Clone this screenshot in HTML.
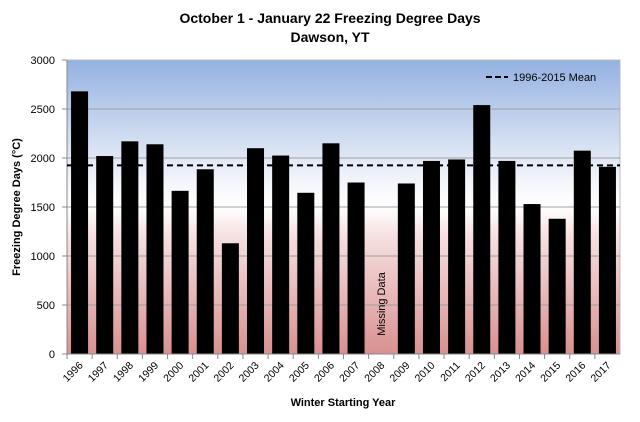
<!DOCTYPE html>
<html><head><meta charset="utf-8"><style>
body{margin:0;background:#fff;}
svg{display:block;font-family:"Liberation Sans",sans-serif;}
</style></head><body>
<svg id="c" width="640" height="422">
<defs>
<linearGradient id="bg" x1="0" y1="0" x2="0" y2="1">
<stop offset="0" stop-color="#94b1e1"/>
<stop offset="0.42" stop-color="#f4f6fb"/>
<stop offset="0.5" stop-color="#ffffff"/>
<stop offset="0.6" stop-color="#f6e0e0"/>
<stop offset="1" stop-color="#d99090"/>
</linearGradient>
</defs>
<text x="330" y="23" text-anchor="middle" font-size="14" font-weight="bold">October 1 - January 22 Freezing Degree Days</text>
<text x="330" y="42" text-anchor="middle" font-size="14" font-weight="bold">Dawson, YT</text>
<rect x="67" y="60" width="553" height="294" fill="url(#bg)" stroke="#bbb"/>
<g id="grid"></g><g id="bars"></g><g id="xl"></g><g id="yl"></g>
<line id="mean" stroke="#000" stroke-width="2" stroke-dasharray="6,4"/>
<line x1="486" y1="77" x2="508" y2="77" stroke="#000" stroke-width="2" stroke-dasharray="6,3"/>
<text x="513" y="81" font-size="11">1996-2015 Mean</text>
<text x="0" y="0" transform="translate(20,207) rotate(-90)" text-anchor="middle" font-size="11" font-weight="bold">Freezing Degree Days (°C)</text>
<text x="343" y="406" text-anchor="middle" font-size="11" font-weight="bold">Winter Starting Year</text>
<text id="miss" font-size="11" text-anchor="middle">Missing Data</text>
</svg>
<script>
const years=["1996","1997","1998","1999","2000","2001","2002","2003","2004","2005","2006","2007","2008","2009","2010","2011","2012","2013","2014","2015","2016","2017"];
const values=[2680,2020,2170,2140,1665,1885,1130,2100,2025,1645,2150,1750,null,1740,1970,1985,2540,1970,1530,1380,2075,1910];
const yTicks=[0,500,1000,1500,2000,2500,3000];
const meanValue=1925;
const NS="http://www.w3.org/2000/svg";
const L=67,R=620,T=60,B=354,yMax=3000;
const step=(R-L)/years.length;
const y=v=>B-(v/yMax)*(B-T);
const x=i=>L+step*i;
function mk(t,a,p){const e=document.createElementNS(NS,t);for(const k in a)e.setAttribute(k,a[k]);document.getElementById(p).appendChild(e);return e;}
yTicks.forEach(v=>{
  if(v>0&&v<yMax){const g=mk('line',{x1:L,x2:R,y1:y(v),y2:y(v),stroke:'#a0a0a0'},'grid');
  
  }
  const t=mk('text',{x:L-12,y:y(v)+4,'text-anchor':'end','font-size':11},'yl');t.textContent=v;
  
  
  mk('line',{x1:L-5,x2:L,y1:y(v),y2:y(v),stroke:'#888'},'yl');
});
years.forEach((yr,i)=>{
  mk('line',{x1:x(i),x2:x(i),y1:B,y2:B+5,stroke:'#888'},'xl');
  const cx=x(i)+step/2;
  const t=mk('text',{x:0,y:0,transform:`translate(${cx+4},${B+12}) rotate(-45)`,'text-anchor':'end','font-size':10.5},'xl');t.textContent=yr;
  
  
  if(values[i]!=null){const b=mk('rect',{x:cx-8.5,y:y(values[i]),width:17,height:B-y(values[i]),fill:'#000'},'bars');
  
  }
  else{const m=document.getElementById('miss');m.setAttribute('transform',`translate(${cx+4},${B-50}) rotate(-90)`);}
});
mk('line',{x1:L,x2:L,y1:T,y2:B,stroke:'#888'},'xl');
mk('line',{x1:L,x2:R,y1:B,y2:B,stroke:'#888'},'xl');
const m=document.getElementById('mean');
m.setAttribute('x1',L);m.setAttribute('x2',R);m.setAttribute('y1',y(meanValue));m.setAttribute('y2',y(meanValue));
</script>
</body></html>
